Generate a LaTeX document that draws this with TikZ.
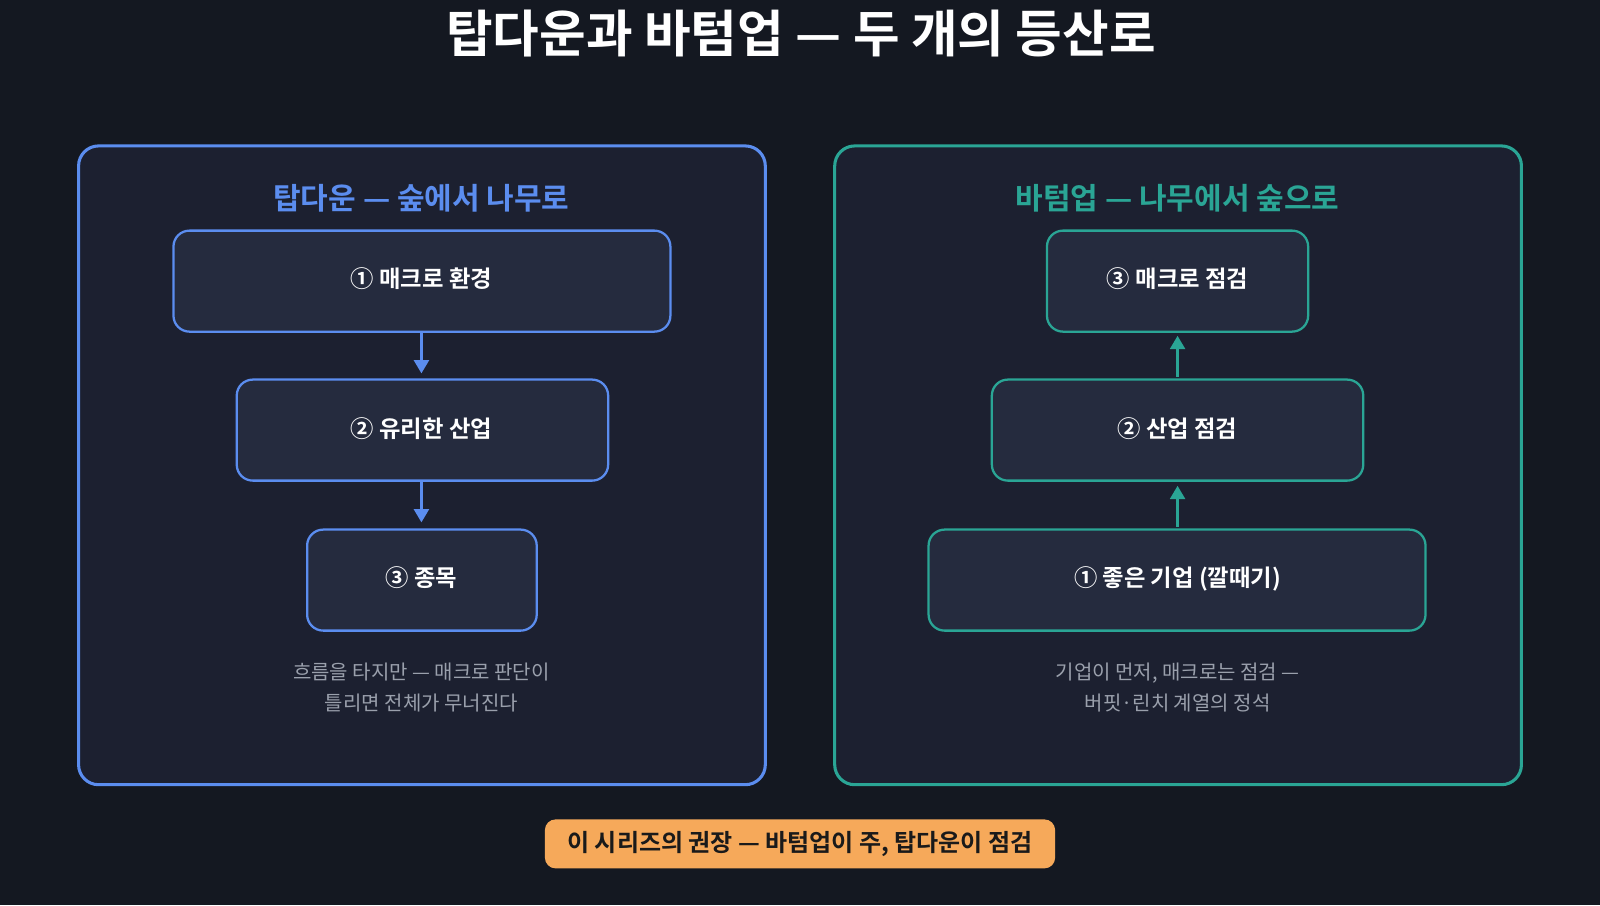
\documentclass[tikz,border=0pt]{standalone}
\usepackage{fontspec}
\setmainfont{Noto Sans CJK KR}
\newfontfamily\bfk{Noto Sans CJK KR Bold}
\usetikzlibrary{arrows.meta}
\definecolor{bg}{HTML}{141821}
\definecolor{panel}{HTML}{1C2030}
\definecolor{boxf}{HTML}{252B3E}
\definecolor{bl}{HTML}{5B8DEF}
\definecolor{tl}{HTML}{2AA595}
\definecolor{gr}{HTML}{9AA0AC}
\definecolor{org}{HTML}{F6A95A}
\definecolor{dk}{HTML}{1A1A1A}
\tikzset{
 pan/.style={draw=#1,line width=2.3pt,fill=panel,rounded corners=15pt},
 bx/.style={draw=#1,line width=1.7pt,fill=boxf,rounded corners=12pt},
 lbl/.style={text=white,font=\bfk\fontsize{17.5}{20}\selectfont},
 sub/.style={text=#1,font=\bfk\fontsize{22.5}{26}\selectfont},
 captxt/.style={text=gr,font=\fontsize{15}{23}\selectfont,align=center},
 ar/.style={draw=#1,line width=2.4pt,-{Triangle[length=10pt,width=11pt]}}
}
\begin{document}
\begin{tikzpicture}[x=0.7653pt,y=-0.7653pt]
\fill[bg] (0,0) rectangle (1568,887);
\useasboundingbox (0,0) rectangle (1568,887);
\node[text=white,font=\bfk\fontsize{38}{44}\selectfont] (title) at (785,33) {탑다운과 바텀업 — 두 개의 등산로};
% left
\path[pan=bl] (77,143) rectangle (750,769);
\node[sub=bl] (ls) at (413,194) {탑다운 — 숲에서 나무로};
\path[bx=bl] (170,226) rectangle (657,325); \node[lbl] (l1) at (413,273) {① 매크로 환경};
\path[bx=bl] (232,372) rectangle (596,471); \node[lbl] (l2) at (413,420) {② 유리한 산업};
\path[bx=bl] (301,519) rectangle (526,618); \node[lbl] (l3) at (413,566) {③ 종목};
\coordinate (la1) at (413,326); \coordinate (la2) at (413,366);
\coordinate (lb1) at (413,472); \coordinate (lb2) at (413,512);
\draw[ar=bl] (la1) -- (la2); \draw[ar=bl] (lb1) -- (lb2);
\node[captxt] (lc) at (413,674) {흐름을 타지만 — 매크로 판단이\\틀리면 전체가 무너진다};
% right
\path[pan=tl] (818,143) rectangle (1491,769);
\node[sub=tl] (rs) at (1154,194) {바텀업 — 나무에서 숲으로};
\path[bx=tl] (1026,226) rectangle (1282,325); \node[lbl] (r3) at (1154,273) {③ 매크로 점검};
\path[bx=tl] (972,372) rectangle (1336,471); \node[lbl] (r2) at (1154,420) {② 산업 점검};
\path[bx=tl] (910,519) rectangle (1397,618); \node[lbl] (r1) at (1154,567) {① 좋은 기업 (깔때기)};
\coordinate (ra1) at (1154,369); \coordinate (ra2) at (1154,329);
\coordinate (rb1) at (1154,516); \coordinate (rb2) at (1154,476);
\draw[ar=tl] (ra1) -- (ra2); \draw[ar=tl] (rb1) -- (rb2);
\node[captxt] (rc) at (1154,674) {기업이 먼저, 매크로는 점검 —\\버핏·린치 계열의 정석};
% banner
\fill[org,rounded corners=8pt] (534,803) rectangle (1034,851);
\node[text=dk,font=\bfk\fontsize{18}{22}\selectfont] (bn) at (784,827) {이 시리즈의 권장 — 바텀업이 주, 탑다운이 점검};
\end{tikzpicture}
\end{document}
